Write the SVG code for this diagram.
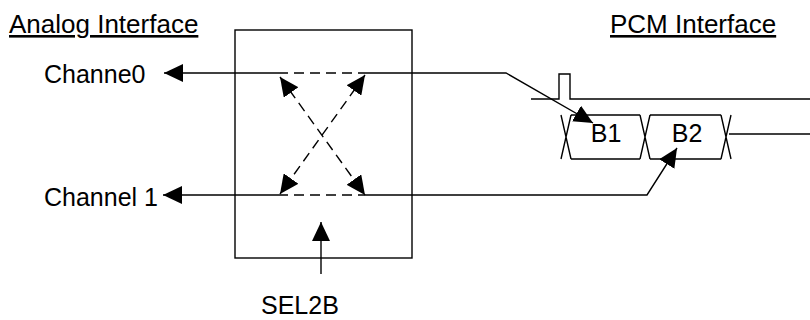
<svg xmlns="http://www.w3.org/2000/svg" width="810" height="320" viewBox="0 0 810 320">
<style>
  .ln { fill: none; stroke: #000; stroke-width: 1.4; }
  .dash { fill: none; stroke: #000; stroke-width: 1.4; stroke-dasharray: 10 6; }
  .t { font-family: "Liberation Sans", Arial, sans-serif; font-size: 25px; fill: #000; }
  .h { font-family: "Liberation Sans", Arial, sans-serif; font-size: 26px; fill: #000; text-decoration: underline; }
</style>
<defs>
  <marker id="ah" markerUnits="userSpaceOnUse" viewBox="0 0 19 18" refX="19" refY="9" markerWidth="19" markerHeight="18" orient="auto-start-reverse">
    <path d="M0,0 L19,9 L0,18 Z" fill="#000" stroke="none"/>
  </marker>
</defs>
<rect width="810" height="320" fill="#fff"/>

<g id="analog-title"><text class="h" x="9" y="33">Analog Interface</text></g>
<g id="pcm-title"><text class="h" x="610" y="33">PCM Interface</text></g>
<g id="channel0"><text class="t" x="44" y="83">Channe0</text></g>
<g id="channel1"><text class="t" x="44" y="206">Channel 1</text></g>
<g id="sel2b"><text class="t" x="261" y="314">SEL2B</text></g>

<g id="switch">
  <rect class="ln" x="235" y="30" width="177" height="228"/>
</g>

<g id="frame-sync">
  <path class="ln" d="M531,99 H559 V74 H570 V99 H810"/>
</g>

<g id="slot-b1">
  <path class="ln" d="M561,115 L571,159 M571,115 L561,159 M571,115 H640 M571,159 H640"/>
  <text class="t" x="606" y="142" text-anchor="middle">B1</text>
</g>
<g id="slot-b2">
  <path class="ln" d="M640,115 L650,159 M650,115 L640,159 M650,115 H721 M650,159 H721 M721,115 L731,159 M731,115 L721,159"/>
  <text class="t" x="687" y="142" text-anchor="middle">B2</text>
</g>
<g id="bus-tail">
  <path class="ln" d="M729,134 H810"/>
</g>

<g id="connectors">
  <path class="ln" d="M278,73 H164" marker-end="url(#ah)"/>
  <path class="dash" d="M278,73 H365"/>
  <path class="ln" d="M365,73 H506 L593,123" marker-end="url(#ah)"/>
  <path class="ln" d="M278,195 H163" marker-end="url(#ah)"/>
  <path class="dash" d="M278,195 H365"/>
  <path class="ln" d="M365,195 H647 L677,148" marker-end="url(#ah)"/>
  <path class="dash" d="M280,77 L365,195" marker-start="url(#ah)" marker-end="url(#ah)"/>
  <path class="dash" d="M365,75 L280,194" marker-start="url(#ah)" marker-end="url(#ah)"/>
  <path class="ln" d="M321,274 V222" marker-end="url(#ah)"/>
</g>
</svg>
